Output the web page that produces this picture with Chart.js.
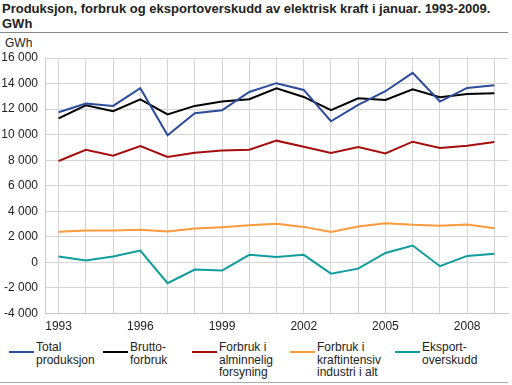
<!DOCTYPE html>
<html>
<head>
<meta charset="utf-8">
<script src="https://cdn.jsdelivr.net/npm/chart.js@4/dist/chart.umd.min.js"></script>
<style>
    body { margin: 0; width: 512px; height: 385px; position: relative; overflow: hidden; background: #fff; font-family: "Liberation Sans", Arial, sans-serif; color: #222; }
    #tittel { position: absolute; left: 2px; top: 1px; font-weight: bold; font-size: 13px; line-height: 15px; color: #222; white-space: nowrap; }
    #strek { position: absolute; left: 0; top: 32px; width: 508px; height: 1px; background: #888; }
    #enhet { position: absolute; left: 5px; top: 36px; font-size: 12px; }
    #grafikk { position: absolute; left: 0; top: 0; }
    #forklaring { position: absolute; left: 0; top: 341px; width: 512px; height: 40px; }
    .post { position: absolute; top: 0; font-size: 12px; line-height: 12.5px; white-space: pre-line; padding-left: 27px; }
    .post span { position: absolute; left: 0; top: 10px; width: 25px; height: 2px; }
    #bunnstrek { position: absolute; left: 0; top: 382px; width: 508px; height: 1px; background: #aaa; }
</style>
</head>
<body>
<div id="tittel">Produksjon, forbruk og eksportoverskudd av elektrisk kraft i januar. 1993-2009.<br>GWh</div>
<div id="strek"></div>
<div id="enhet">GWh</div>
<canvas id="grafikk" width="512" height="340"></canvas>
<div id="forklaring"></div>
<div id="bunnstrek"></div>
<script>
const aar = ["1993", "1994", "1995", "1996", "1997", "1998", "1999", "2000", "2001",
    "2002", "2003", "2004", "2005", "2006", "2007", "2008", "2009"];

const totalProduksjon = [11750, 12430, 12250, 13630, 9950, 11670, 11910, 13340, 14030,
    13500, 11050, 12330, 13400, 14840, 12590, 13660, 13870];
const bruttoForbruk = [11280, 12300, 11830, 12770, 11590, 12250, 12590, 12770, 13630,
    12950, 11910, 12850, 12720, 13550, 12930, 13190, 13240];
const alminneligForsyning = [7940, 8820, 8350, 9110, 8250, 8590, 8750, 8820, 9530,
    9060, 8560, 9030, 8530, 9450, 8950, 9140, 9420];
const kraftintensiv = [2390, 2500, 2490, 2550, 2420, 2650, 2760, 2900, 3020,
    2780, 2390, 2810, 3070, 2940, 2860, 2970, 2680];
const eksportoverskudd = [460, 140, 470, 930, -1630, -560, -640, 590, 430,
    590, -880, -490, 740, 1320, -300, 510, 670];

const yTicks = [-4000, -2000, 0, 2000, 4000, 6000, 8000, 10000, 12000, 14000, 16000];

function tall(v) {
    const s = String(Math.abs(v)).replace(/\B(?=(\d{3})+(?!\d))/g, " ");
    return (v < 0 ? "-" : "") + s;
}

function serie(label, data, farge) {
    return {
        label: label,
        data: data,
        borderColor: farge,
        backgroundColor: farge,
        borderWidth: 2,
        pointRadius: 0,
        tension: 0,
        fill: false
    };
}

const ctx = document.getElementById("grafikk").getContext("2d");

const chart = new Chart(ctx, {
    type: 'line',
    data: {
        labels: aar,
        datasets: [
            serie("Total\nproduksjon", totalProduksjon, "#2b4c9b"),
            serie("Brutto-\nforbruk", bruttoForbruk, "#000000"),
            serie("Forbruk i\nalminnelig\nforsyning", alminneligForsyning, "#a60d0d"),
            serie("Forbruk i\nkraftintensiv\nindustri i alt", kraftintensiv, "#ff9a3d"),
            serie("Eksport-\noverskudd", eksportoverskudd, "#0f9c9c")
        ]
    },
    options: {
        responsive: false,
        animation: false,
        devicePixelRatio: 1,
        layout: {
            padding: { top: 58, right: 4, left: 0, bottom: 0 }
        },
        plugins: {
            legend: { display: false },
            tooltip: { enabled: false },
            title: { display: false }
        },
        scales: {
            x: {
                offset: true,
                grid: { offset: false, color: "#d4d4d4", lineWidth: 1, drawTicks: false },
                border: { color: "#c8c8c8" },
                ticks: {
                    autoSkip: false,
                    maxRotation: 0,
                    padding: 6,
                    color: "#222",
                    font: { family: "'Liberation Sans', Arial", size: 12 },
                    callback: (v, i) => (i % 3 === 0 ? aar[i] : "")
                },
                afterFit: (scale) => { scale.height = 26.5; }
            },
            y: {
                min: -4000,
                max: 16000,
                afterBuildTicks: (scale) => { scale.ticks = yTicks.map(v => ({ value: v })); },
                grid: { color: "#d4d4d4", lineWidth: 1, drawTicks: false },
                border: { color: "#c8c8c8" },
                ticks: {
                    padding: 7,
                    color: "#222",
                    font: { family: "'Liberation Sans', Arial", size: 12 },
                    callback: (v) => tall(v)
                },
                afterFit: (scale) => { scale.width = 45; }
            }
        }
    }
});

// forklaring under grafen, bygget fra datasettene
const posisjoner = [9, 103, 192, 290, 395];
const forklaring = document.getElementById("forklaring");
chart.data.datasets.forEach((ds, i) => {
    const el = document.createElement("div");
    el.className = "post";
    el.style.left = posisjoner[i] + "px";
    el.textContent = ds.label;
    const strek = document.createElement("span");
    strek.style.background = ds.borderColor;
    el.appendChild(strek);
    forklaring.appendChild(el);
});
</script>
</body>
</html>
